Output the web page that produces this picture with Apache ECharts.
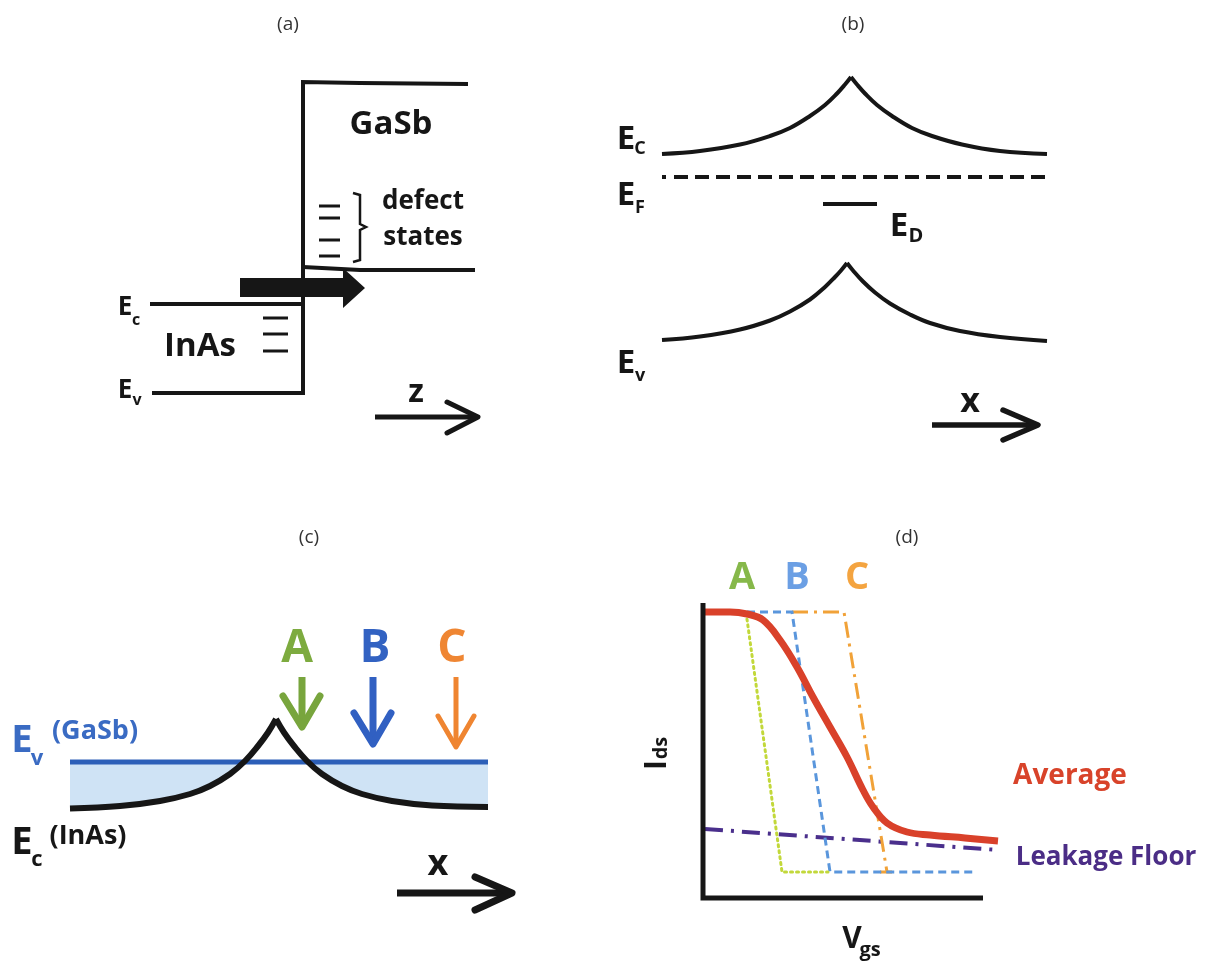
<!DOCTYPE html>
<html><head><meta charset="utf-8">
<script src="https://cdn.jsdelivr.net/npm/echarts@6/dist/echarts.min.js"></script>
<style>html,body{margin:0;padding:0;background:#fff}#c{width:1220px;height:963px}</style>
</head><body><div id="c"></div>
<script>
// ---------- Panel (a): InAs/GaSb band edges along z  [position, energy]
const aInAsEc = [[1.0,13.6],[16.3,13.6]];
const aEdge = [[1.2,4.7],[16.3,4.7],[16.3,35.8],[22.0,35.7],[32.8,35.6]];
const aGaSbEv = [[16.3,17.3],[22.0,17.0],[33.5,17.0]];
const aGaSbDefects = [23.4,22.2,20.0,18.4];
const aInAsDefects = [12.2,10.6,8.9];
const aTunnelArrow = [[10.0,16.2],[20.3,16.2],[20.3,17.2],[22.5,15.2],[20.3,13.2],[20.3,14.3],[10.0,14.3]];
const aBrace = [[21.3,24.7],[22.0,24.5],[22.0,21.6],[22.6,21.3],[22.0,21.0],[22.0,18.0],[21.3,17.8]];
const aZShaft = [[23.5,2.3],[33.4,2.3]];
const aZHead = [[30.7,3.8],[33.8,2.3],[30.7,0.7]];

// ---------- Panel (b): band bending along x  [position, energy]
const bEcLeft  = [[6.2,30.6],[10,30.9],[14,31.55],[17,32.4],[19,33.2],[21,34.4],[22.5,35.5],[23.7,36.65],[24.5,37.55],[25.1,38.3]];
const bEcRight = [[25.1,38.3],[25.7,37.55],[26.5,36.65],[27.7,35.5],[29.2,34.4],[31.2,33.2],[33.2,32.4],[36.2,31.55],[40,30.9],[44.7,30.6]];
const bEvLeft  = [[6.2,12.0],[10,12.35],[14,13.05],[17,13.95],[19,14.85],[21,16.05],[22.5,17.3],[23.5,18.3],[24.1,18.95],[24.7,19.7]];
const bEvRight = [[24.7,19.7],[25.3,18.95],[26.3,17.85],[27.5,16.75],[29,15.65],[31,14.55],[33,13.7],[36,12.9],[40,12.3],[44.7,11.9]];
const bEF = [[6.2,28.3],[44.7,28.3]];
const bED = [[22.3,25.6],[27.7,25.6]];
const bXShaft = [[33.2,3.5],[43.4,3.5]];
const bXHead = [[40.3,5.0],[43.8,3.5],[40.3,2.0]];

// ---------- Panel (c): Ev(GaSb) vs Ec(InAs) along x
const cEv = [[3.0,15.8],[44.8,15.8]];
const cEcLeft  = [[3,11.15],[8,11.4],[12,11.9],[15,12.6],[17,13.4],[19,14.6],[20.5,15.9],[21.8,17.4],[22.8,18.75],[23.6,20.1]];
const cEcRight = [[23.6,20.1],[24.4,18.75],[25.4,17.4],[26.7,15.9],[28.2,14.6],[30.2,13.4],[32.2,12.6],[35.2,11.9],[39.2,11.45],[44.8,11.3]];
const cArrowA = {shaft:[[26.2,24.3],[26.2,19.6]], head:[[24.3,22.4],[26.2,19.3],[28.0,22.4]]};
const cArrowB = {shaft:[[33.3,24.3],[33.3,17.9]], head:[[31.4,20.7],[33.3,17.6],[35.1,20.7]]};
const cArrowC = {shaft:[[41.6,24.3],[41.6,17.5]], head:[[39.8,20.4],[41.6,17.3],[43.4,20.4]]};
const cXShaft = [[35.7,2.7],[46.8,2.7]];
const cXHead = [[43.5,4.3],[47.2,2.7],[43.5,1.0]];

// ---------- Panel (d): Ids vs Vgs
const dAxes = [[0.3,30.7],[0.3,1.2],[28.3,1.2]];
const dAverage = [[0.5,29.8],[3.0,29.8],[4.7,29.6],[6.3,29.0],[8.0,27.0],[9.7,24.3],[11.3,21.3],[13.0,18.3],[14.7,15.3],[16.3,12.0],[17.3,10.3],[18.7,8.7],[20.7,7.8],[23.0,7.5],[26.5,7.2],[29.8,6.9]];
const dLeakage = [[0.5,8.1],[29.8,6.0]];
const dA = [[0.5,29.8],[4.6,29.8],[8.2,3.8],[12.8,3.8]];
const dB = [[4.7,29.8],[9.2,29.8],[13.0,3.8],[27.3,3.8]];
const dC = [[9.2,29.8],[14.4,29.8],[18.7,3.8]];
const dCTick = [[18.0,3.8],[19.2,3.8]];

const FONT = '"Open Sans", Lato, sans-serif';
const K = '#161616';

const grids = [
  {left:140, top:60, width:350, height:380},
  {left:600, top:60, width:460, height:400},
  {left:40,  top:560, width:480, height:360},
  {left:700, top:590, width:320, height:320}
];
const ranges = [[35,38],[46,40],[48,36],[32,32]];

function line(g, data, color, width, opt) {
  opt = opt || {};
  return {
    type:'line', xAxisIndex:g, yAxisIndex:g, data:data, symbol:'none', silent:true, clip:false,
    smooth: opt.smooth || false,
    lineStyle:{color:color, width:width, type: opt.type || 'solid', cap: opt.cap || 'butt', join: opt.join || 'miter', opacity: opt.opacity == null ? 1 : opt.opacity},
    areaStyle: opt.area ? {color: opt.area, opacity:1, origin:'start'} : undefined,
    z: opt.z || 2
  };
}
function polygon(g, pts, color) {
  return {
    type:'custom', xAxisIndex:g, yAxisIndex:g, data:pts, silent:true, clip:false, z:3,
    renderItem: function(params, api) {
      if (params.dataIndex !== 0) return null;
      return {type:'polygon', shape:{points: pts.map(function(p){return api.coord(p);})}, style:{fill:color}};
    }
  };
}
function txt(x, y, text, size, color, weight) {
  return {type:'text', x:x, y:y, z:100, silent:true,
    style:{text:text, font:(weight||'bold')+' '+size+'px '+FONT, fill:color,
      textAlign:'center', textVerticalAlign:'middle', align:'center', verticalAlign:'middle'}};
}

const S = 0.4;
const series = [];
// panel a
series.push(line(0, aEdge, K, 4));
series.push(line(0, aInAsEc, K, 4));
series.push(line(0, aGaSbEv, K, 4));
aGaSbDefects.forEach(function(e){ series.push(line(0, [[17.9,e],[20.0,e]], K, 3)); });
aInAsDefects.forEach(function(e){ series.push(line(0, [[12.3,e],[14.8,e]], K, 3)); });
series.push(line(0, aBrace, K, 2.5));
series.push(polygon(0, aTunnelArrow, K));
series.push(line(0, aZShaft, K, 5));
series.push(line(0, aZHead, K, 5, {cap:'round', join:'round'}));
// panel b
series.push(line(1, bEcLeft, K, 4, {smooth:S}));
series.push(line(1, bEcRight, K, 4, {smooth:S}));
series.push(line(1, bEvLeft, K, 4, {smooth:S}));
series.push(line(1, bEvRight, K, 4, {smooth:S}));
series.push(line(1, [[6.2,28.3],[6.6,28.3]], K, 4));
series.push(line(1, [[7.4,28.3],[44.7,28.3]], K, 4, {type:[14,7]}));
series.push(line(1, bED, K, 4));
series.push(line(1, bXShaft, K, 5.5));
series.push(line(1, bXHead, K, 5.5, {cap:'round', join:'round'}));
// panel c
series.push(line(2, cEv, '#cfe3f5', 0, {area:'#cfe3f5', opacity:0}));
series.push(line(2, cEcLeft, '#ffffff', 0, {smooth:S, area:'#ffffff', opacity:0}));
series.push(line(2, cEcRight, '#ffffff', 0, {smooth:S, area:'#ffffff', opacity:0}));
series.push(line(2, cEv, '#2c5fb8', 5));
series.push(line(2, cEcLeft, K, 6, {smooth:S}));
series.push(line(2, cEcRight, K, 6, {smooth:S}));
[[cArrowA,'#78a53d',7],[cArrowB,'#3160c2',7],[cArrowC,'#ef8531',5]].forEach(function(a){
  series.push(line(2, a[0].shaft, a[1], a[2]));
  series.push(line(2, a[0].head, a[1], a[2], {cap:'round', join:'round'}));
});
series.push(line(2, cXShaft, K, 7));
series.push(line(2, cXHead, K, 7, {cap:'round', join:'round'}));
// panel d
series.push(line(3, dLeakage, '#4a2f8c', 4, {type:[18,8,3,8]}));
series.push(line(3, dC, '#f1a238', 3, {type:[16,6,3,6]}));
series.push(line(3, dCTick, '#f1a238', 3));
series.push(line(3, dB, '#5a96dc', 3, {type:[8,5]}));
series.push(line(3, dA, '#c2d83a', 3, {type:[2,4], cap:'round'}));
series.push(line(3, dAverage, '#d9412a', 7, {smooth:S}));
series.push(line(3, dAxes, K, 5));

const texts = [
  // a
  txt(288,25,'(a)',19,'#333','normal'),
  txt(391,125,'GaSb',33,K),
  txt(423,202,'defect',26,K), txt(423,238,'states',26,K),
  txt(200,347,'InAs',33,K),
  txt(125,308,'E',26,K), txt(136,320,'c',16,K),
  txt(125,391,'E',26,K), txt(137,400,'v',16,K),
  txt(416,393,'z',32,K),
  // b
  txt(626,140,'E',33,K), txt(640,149,'C',18,K),
  txt(853,25,'(b)',19,'#333','normal'),
  txt(626,196,'E',33,K), txt(640,208,'F',18,K),
  txt(899,227,'E',33,K), txt(916,236,'D',20,K),
  txt(626,364,'E',33,K), txt(640,376,'v',18,K),
  txt(970,402,'x',34,K),
  // c
  txt(309,538,'(c)',19,'#333','normal'),
  txt(22,741,'E',38,'#3a6bc3'), txt(37,759,'v',22,'#3a6bc3'), txt(95,731,'(GaSb)',27,'#3a6bc3'),
  txt(22,843,'E',38,K), txt(37,860,'c',22,K), txt(88,836,'(InAs)',27,K),
  txt(297,649,'A',46,'#7dab3f'), txt(375,649,'B',46,'#3262c2'), txt(452,649,'C',46,'#ef8633'),
  txt(438,865,'x',36,K),
  // d
  txt(907,538,'(d)',19,'#333','normal'),
  txt(742,578,'A',38,'#86b84a'), txt(797,578,'B',38,'#6b9fe4'), txt(857,578,'C',38,'#f4a440'),
  txt(1070,776,'Average',28,'#d8432a'),
  txt(1106,858,'Leakage Floor',26,'#4b2d86'),
  {type:'group', x:660, y:757, rotation:Math.PI/2, z:100, children:[txt(-8,-3,'I',30,K), txt(9,1,'ds',20,K)]},
  txt(852,939,'V',30,K), txt(870,950,'gs',20,K)
];

const chart = echarts.init(document.getElementById('c'), null, {renderer:'canvas'});
chart.setOption({
  animation:false,
  backgroundColor:'#ffffff',
  grid: grids,
  xAxis: ranges.map(function(r,i){return {gridIndex:i, type:'value', min:0, max:r[0], show:false};}),
  yAxis: ranges.map(function(r,i){return {gridIndex:i, type:'value', min:0, max:r[1], show:false};}),
  series: series,
  graphic: {elements: texts}
});
</script></body></html>
